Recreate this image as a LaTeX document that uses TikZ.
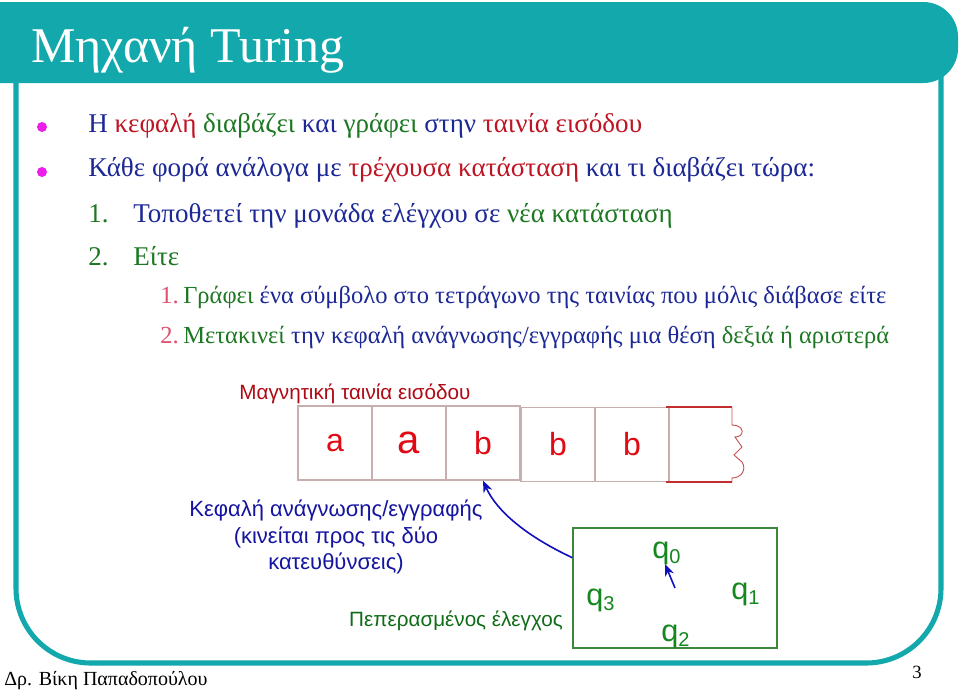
\documentclass[tikz,border=0pt]{standalone}
\usepackage{fontspec}
\setmainfont{Liberation Serif}
\newfontfamily\arialf{Liberation Sans}
\usetikzlibrary{arrows.meta,calc}
\definecolor{teal1}{RGB}{18,168,172}
\definecolor{cblue}{RGB}{28,40,150}
\definecolor{cred}{RGB}{190,20,35}
\definecolor{cgreen}{RGB}{30,120,35}
\definecolor{cpink}{RGB}{225,80,110}
\definecolor{cmag}{RGB}{235,30,235}
\definecolor{tapegray}{RGB}{200,175,175}
\definecolor{tapered}{RGB}{195,45,45}
\definecolor{letterred}{RGB}{225,10,20}
\definecolor{dblue}{RGB}{20,20,160}
\definecolor{arrblue}{RGB}{15,15,190}
\definecolor{qgreen}{RGB}{20,135,30}
\definecolor{boxgreen}{RGB}{60,135,60}
\definecolor{dred}{RGB}{175,10,20}
\tikzset{
  bodytxt/.style={anchor=base west,inner sep=0pt,font=\fontsize{20.3}{24}\selectfont},
  subtxt/.style={anchor=base west,inner sep=0pt,font=\fontsize{18.4}{22}\selectfont},
  bullet/.style={circle,fill=cmag,inner sep=0pt,minimum size=7.5pt},
  cell/.style={draw=tapegray,line width=0.8pt,minimum width=55.5pt,minimum height=55.5pt,inner sep=0pt,text=letterred,font=\arialf\fontsize{24}{24}\selectfont},
  lbl/.style={inner sep=0pt,font=\arialf\fontsize{15.5}{19.5}\selectfont},
  qlbl/.style={anchor=base west,inner sep=0pt,text=qgreen,font=\arialf\fontsize{23}{23}\selectfont},
  headarrow/.style={draw=arrblue,line width=1.2pt,-{Stealth[length=9pt,width=7pt]}}
}
\newcommand{\qsub}[1]{\raisebox{-0.18em}{\fontsize{15}{15}\selectfont #1}}
\begin{document}
\begin{tikzpicture}[x=0.75pt,y=-0.75pt]
\useasboundingbox (0,0) rectangle (960,689);
\fill[white] (0,0) rectangle (960,689);
% frame
\draw[teal1,line width=3.8pt,rounded corners=56pt] (16,60) -- (16,663) -- (941,663) -- (941,60);
% title bar
\fill[teal1,rounded corners=26pt] (-60,2) rectangle (958,83);
\node[anchor=base west,inner sep=0pt,text=white,font=\fontsize{37.5}{40}\selectfont] (title) at (31,62) {Μηχανή Turing};
% bullets and text
\node[bullet] (b1) at (42,127) {};
\node[bullet] (b2) at (42,172) {};
\node[bodytxt] (l1) at (88,132) {\color{cblue}Η \color{cred}κεφαλή \color{cgreen}διαβάζει \color{cblue}και \color{cgreen}γράφει \color{cblue}στην \color{cred}ταινία εισόδου};
\node[bodytxt] (l2) at (88,176) {\color{cblue}Κάθε φορά ανάλογα με \color{cred}τρέχουσα κατάσταση \color{cblue}και τι διαβάζει τώρα:};
\node[bodytxt,text=cgreen] (n3) at (88,222) {1.};
\node[bodytxt] (l3) at (133,222) {\color{cblue}Τοποθετεί την μονάδα ελέγχου σε \color{cgreen}νέα κατάσταση};
\node[bodytxt,text=cgreen] (n4) at (88,265) {2.};
\node[bodytxt,text=cgreen] (l4) at (133,265) {Είτε};
\node[subtxt,text=cpink] (n5) at (160,303) {1.};
\node[subtxt] (l5) at (183,303) {\color{cgreen}Γράφει \color{cblue}ένα σύμβολο στο τετράγωνο της ταινίας που μόλις διάβασε είτε};
\node[subtxt,text=cpink] (n6) at (160,343) {2.};
\node[subtxt] (l6) at (183,343) {\color{cgreen}Μετακινεί \color{cblue}την κεφαλή ανάγνωσης/εγγραφής μια θέση \color{cgreen}δεξιά ή αριστερά};
% tape
\node[lbl,text=dred] (tapelbl) at (355,394) {Μαγνητική ταινία εισόδου};
\node[cell] (c1) at (335,443) {a};
\node[cell,font=\arialf\fontsize{30}{30}\selectfont] (c2) at (409,443) {a};
\node[cell] (c3) at (483,443) {b};
\node[cell] (c4) at (558,444.5) {b};
\node[cell] (c5) at (632,444.5) {b};
\coordinate (e1) at (666,407);
\coordinate (e2) at (732,407);
\coordinate (e3) at (666,482);
\coordinate (e4) at (732,482);
\draw[tapered,line width=1.5pt] (e1) -- (e2);
\draw[tapered,line width=1.5pt] (e3) -- (e4);
\draw[draw=tapered!70!tapegray,line width=0.7pt] (e2) -- (732,425) .. controls (745,425) and (745,437) .. (735,437) -- (742,447) -- (734,455) -- (742,462) .. controls (747,470) and (741,478) .. (732,478) -- (e4);
% head label
\node[lbl,text=dblue,align=center,font=\arialf\fontsize{16.5}{20}\selectfont] (headlbl) at (336,537) {Κεφαλή ανάγνωσης/εγγραφής\\(κινείται προς τις δύο\\κατευθύνσεις)};
\node[lbl,text=qgreen!80!black] (ctrllbl) at (456,621) {Πεπερασμένος έλεγχος};
% control box
\node[draw=boxgreen,line width=0.9pt,minimum width=153pt,minimum height=90pt,inner sep=0pt] (ctrl) at (675,588) {};
\node[qlbl] (q0) at (652,558) {q\qsub{0}};
\node[qlbl] (q3) at (586,605) {q\qsub{3}};
\node[qlbl] (q1) at (731,599) {q\qsub{1}};
\node[qlbl] (q2) at (661,641) {q\qsub{2}};
\coordinate (hs) at ($(ctrl.north west)!0.25!(ctrl.south west)$);
\draw[headarrow] (hs) .. controls (528,537) and (497,512) .. (c3.south);
\coordinate (pt) at (665,564);
\draw[headarrow] (ctrl.center) -- (pt);
% footer
\node[anchor=base west,inner sep=0pt,font=\fontsize{15}{16}\selectfont] (foot) at (4,685) {Δρ. Βίκη Παπαδοπούλου};
\node[anchor=base west,inner sep=0pt,font=\fontsize{14}{16}\selectfont] (pg) at (912,678) {3};
\end{tikzpicture}
\end{document}
